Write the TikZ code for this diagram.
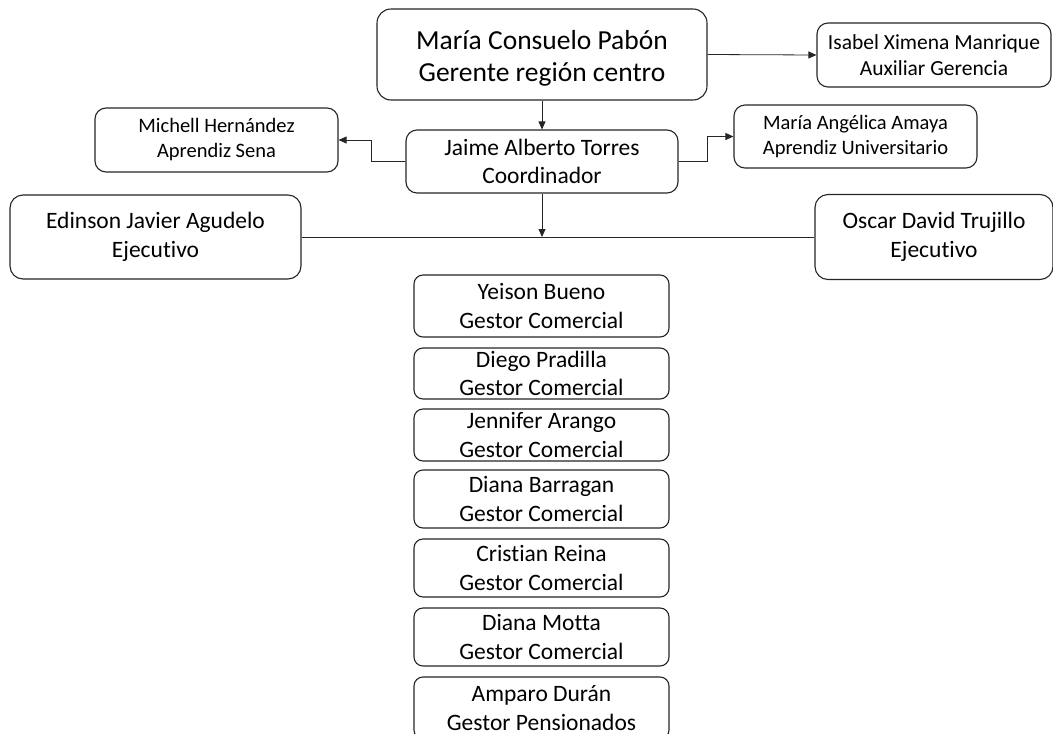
\documentclass[tikz,border=0pt]{standalone}
\usepackage{fontspec}
\setmainfont{Carlito}[Ligatures={NoCommon}]
\usetikzlibrary{arrows.meta}
\begin{document}
\begin{tikzpicture}[x=1pt,y=-1pt,
  box/.style={draw=black!85, line width=1.1pt, rounded corners=11pt, align=center, inner sep=0pt, fill=white},
  big/.style={font=\fontsize{27.5}{32}\selectfont},
  mid/.style={font=\fontsize{23.5}{28.5}\selectfont},
  small/.style={font=\fontsize{20.5}{25}\selectfont},
  gest/.style={box, mid, minimum width=255pt, rounded corners=9pt},
  conn/.style={draw=black!85, line width=0.8pt},
  arr/.style={conn, -{Triangle[length=8pt,width=7pt]}}]
\useasboundingbox (0,0) rectangle (1053,734);
\clip (0,0) rectangle (1053,734);
\fill[white] (0,0) rectangle (1053,734);
\node[box, minimum width=330pt, minimum height=91pt, rounded corners=14pt] (maria) at (542,54.5) {};
\node[big, align=center, inner sep=0pt] (mariatext) at (542,58) {María Consuelo Pabón\\Gerente región centro};
\node[box, minimum width=234pt, minimum height=64pt, font=\fontsize{21.5}{25.5}\selectfont] (isabel) at (934,55) {Isabel Ximena Manrique\\Auxiliar Gerencia};
\node[box, mid, minimum width=272pt, minimum height=63pt] (jaime) at (542,161.5) {Jaime Alberto Torres\\Coordinador};
\node[box, small, minimum width=243pt, minimum height=64pt] (michell) at (216.5,140) {Michell Hernández\\Aprendiz Sena};
\node[box, small, minimum width=243pt, minimum height=63pt] (angelica) at (855.5,136.5) {María Angélica Amaya\\Aprendiz Universitario};
\node[box, mid, minimum width=291pt, minimum height=84pt, rounded corners=13pt] (edinson) at (155.5,237) {Edinson Javier Agudelo\\Ejecutivo};
\node[box, mid, minimum width=238pt, minimum height=85pt, rounded corners=13pt] (oscar) at (934,237) {Oscar David Trujillo\\Ejecutivo};
\node[gest, minimum height=62pt] (yeison) at (541.5,306) {Yeison Bueno\\Gestor Comercial};
\node[gest, minimum height=51pt] (diego) at (541.5,373.5) {Diego Pradilla\\Gestor Comercial};
\node[gest, minimum height=52pt] (jennifer) at (541.5,435) {Jennifer Arango\\Gestor Comercial};
\node[gest, minimum height=58pt] (dianab) at (541.5,499) {Diana Barragan\\Gestor Comercial};
\node[gest, minimum height=58pt] (cristian) at (541.5,568) {Cristian Reina\\Gestor Comercial};
\node[gest, minimum height=58pt] (dianam) at (541.5,637) {Diana Motta\\Gestor Comercial};
\node[gest, minimum height=62pt] (amparo) at (541.5,708) {Amparo Durán\\Gestor Pensionados};
\draw[arr] (maria.east) -- (isabel.west);
\draw[arr] (maria.south) -- (jaime.north);
\draw[arr] (jaime.west) -- ++(-34,0) |- (michell.east);
\draw[arr] (jaime.east) -- ++(29,0) |- (angelica.west);
\draw[conn] (edinson.east) -- (oscar.west);
\draw[arr] (jaime.south) -- (jaime.south |- edinson.east);
\end{tikzpicture}
\end{document}
